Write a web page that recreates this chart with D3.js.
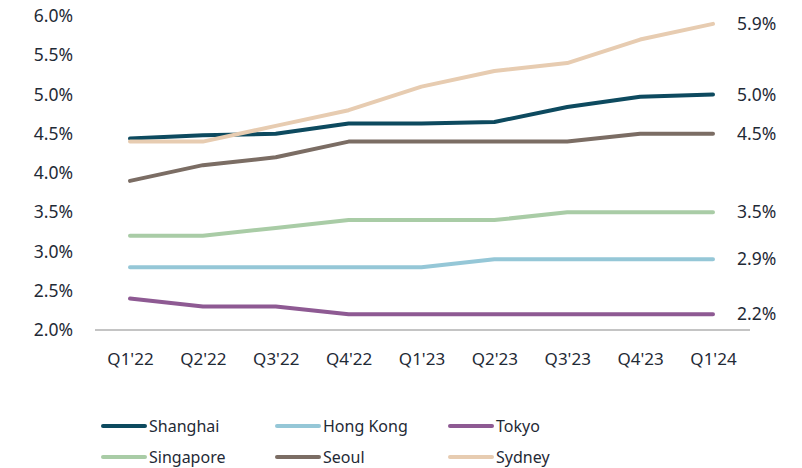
<!DOCTYPE html>
<html>
<head>
<meta charset="utf-8">
<script src="https://cdn.jsdelivr.net/npm/d3@7/dist/d3.min.js"></script>
<style>
  html, body { margin: 0; padding: 0; background: #fff; }
  svg { display: block; font-family: "Noto Sans", sans-serif; }
</style>
</head>
<body>
<svg id="chart" width="802" height="468"></svg>
<script>
// Quarterly series, percent
const quarters = ["Q1'22", "Q2'22", "Q3'22", "Q4'22", "Q1'23", "Q2'23", "Q3'23", "Q4'23", "Q1'24"];
const shanghai  = [4.44, 4.48, 4.50, 4.63, 4.63, 4.65, 4.84, 4.97, 5.0];
const hongKong  = [2.8, 2.8, 2.8, 2.8, 2.8, 2.9, 2.9, 2.9, 2.9];
const tokyo     = [2.4, 2.3, 2.3, 2.2, 2.2, 2.2, 2.2, 2.2, 2.2];
const singapore = [3.2, 3.2, 3.3, 3.4, 3.4, 3.4, 3.5, 3.5, 3.5];
const seoul     = [3.9, 4.1, 4.2, 4.4, 4.4, 4.4, 4.4, 4.5, 4.5];
const sydney    = [4.4, 4.4, 4.6, 4.8, 5.1, 5.3, 5.4, 5.7, 5.9];
const yTicks    = [2.0, 2.5, 3.0, 3.5, 4.0, 4.5, 5.0, 5.5, 6.0];

const series = [
  { name: "Shanghai",  values: shanghai,  color: "#0d4a5f" },
  { name: "Hong Kong", values: hongKong,  color: "#95c7d7" },
  { name: "Tokyo",     values: tokyo,     color: "#8e5a93" },
  { name: "Singapore", values: singapore, color: "#a9cca6" },
  { name: "Seoul",     values: seoul,     color: "#7b6d64" },
  { name: "Sydney",    values: sydney,    color: "#e7ccb1" }
];

const svg = d3.select("#chart");
const textColor = "#1f2a36";

const x = d3.scalePoint().domain(quarters).range([130, 713]);
const y = d3.scaleLinear().domain([2.0, 6.0]).range([330, 16]);

// Left value axis (labels only)
const yAxis = svg.append("g").attr("transform", "translate(73,0)")
  .call(d3.axisLeft(y).tickValues(yTicks).tickFormat(d => d.toFixed(1) + "%").tickSize(0).tickPadding(0));
yAxis.select(".domain").remove();
yAxis.selectAll("text").attr("font-size", 17.5).attr("fill", textColor).attr("font-family", "Noto Sans, sans-serif");

// Baseline
svg.append("line")
  .attr("x1", 95).attr("x2", 750)
  .attr("y1", y(2.0)).attr("y2", y(2.0))
  .attr("stroke", "#8a8a8a").attr("stroke-width", 1.2);

// Category axis (labels only)
const xAxis = svg.append("g").attr("transform", "translate(0,352)")
  .call(d3.axisBottom(x).tickSize(0).tickPadding(0));
xAxis.select(".domain").remove();
xAxis.selectAll("text").attr("font-size", 17).attr("fill", textColor).attr("dy", "0.75em").attr("font-family", "Noto Sans, sans-serif");

// Lines
const line = d3.line().x((d, i) => x(quarters[i])).y(d => y(d));
svg.append("g").selectAll("path").data(series).join("path")
  .attr("d", d => line(d.values))
  .attr("fill", "none")
  .attr("stroke", d => d.color)
  .attr("stroke-width", 4)
  .attr("stroke-linecap", "round")
  .attr("stroke-linejoin", "round");

// End labels
svg.append("g").selectAll("text").data(series).join("text")
  .attr("x", 737)
  .attr("y", d => y(d.values[d.values.length - 1]))
  .attr("dy", "0.35em")
  .attr("font-size", 17.5)
  .attr("fill", textColor)
  .text(d => d.values[d.values.length - 1].toFixed(1) + "%");

// Legend: 3 columns x 2 rows
const colX = [103, 277, 450];
const rowY = [426, 457];
const leg = svg.append("g").selectAll("g").data(series).join("g")
  .attr("transform", (d, i) => `translate(${colX[i % 3]},${rowY[Math.floor(i / 3)]})`);
leg.append("line")
  .attr("x1", 0).attr("x2", 42).attr("y1", 0).attr("y2", 0)
  .attr("stroke", d => d.color).attr("stroke-width", 4).attr("stroke-linecap", "round");
leg.append("text")
  .attr("x", 46).attr("dy", "0.35em")
  .attr("font-size", 16).attr("fill", textColor)
  .text(d => d.name);
</script>
</body>
</html>
